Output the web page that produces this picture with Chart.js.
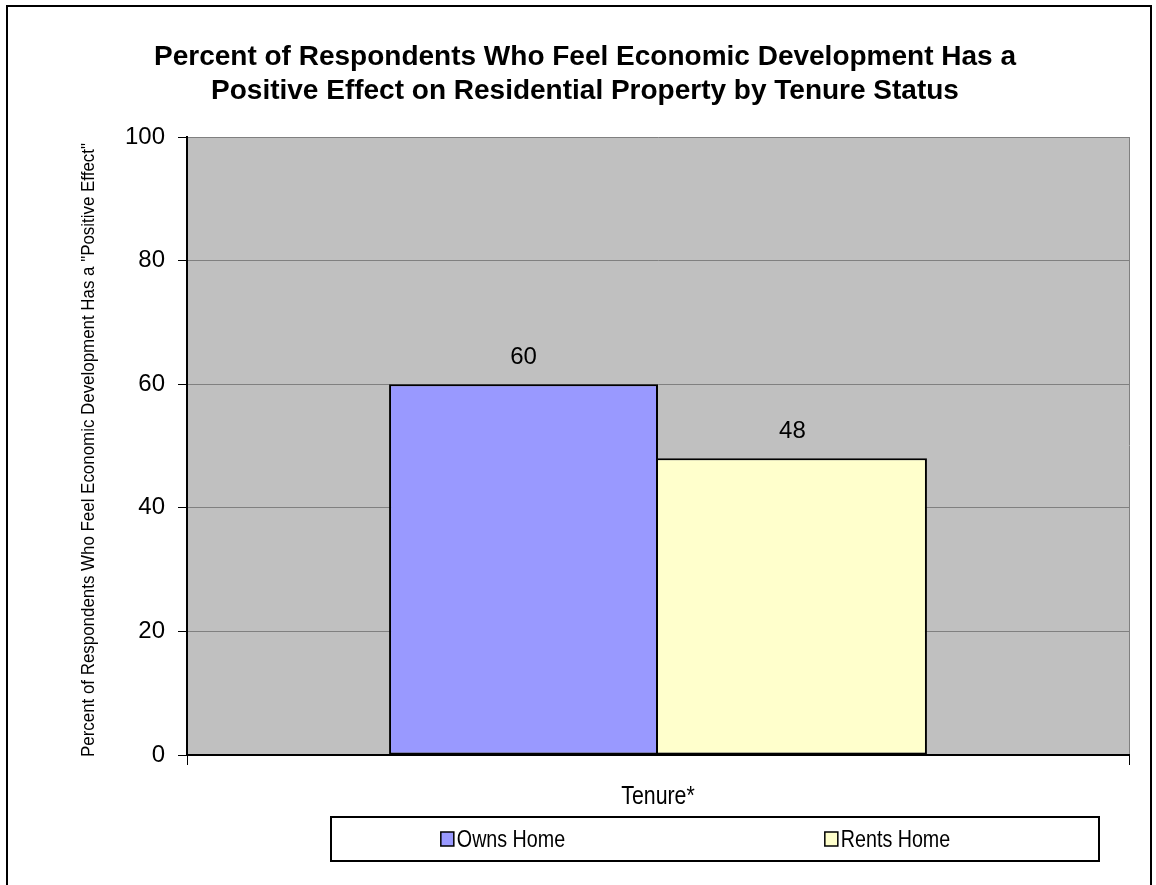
<!DOCTYPE html>
<html lang="en">
<head>
<meta charset="UTF-8">
<title>Positive Effect on Residential Property by Tenure Status</title>
<script src="https://cdn.jsdelivr.net/npm/chart.js"></script>
<style>
  html, body { margin: 0; padding: 0; background: #fff; }
  #wrap { width: 1156px; height: 885px; position: relative; }
</style>
</head>
<body>
<div id="wrap"><canvas id="chart"></canvas></div>
<script>
// data
const categories = [''];
const seriesNames = ['Owns Home', 'Rents Home'];
const ownsHome = [60];
const rentsHome = [48];
const seriesColors = ['#9999FF', '#FFFFCC'];
const yTicks = [0, 20, 40, 60, 80, 100];
const chartTitle = [
    'Percent of Respondents Who Feel Economic Development Has a',
    'Positive Effect on Residential Property by Tenure Status'
];
const xTitle = 'Tenure*';
const yTitle = 'Percent of Respondents Who Feel Economic Development Has a "Positive Effect"';

const FONT = '"Liberation Sans", Arial, Helvetica, sans-serif';

// draws text squeezed horizontally, like the narrow font of the original
function narrowText(ctx, text, x, y, size, squeeze, align, angle) {
    ctx.save();
    ctx.translate(x, y);
    if (angle) ctx.rotate(angle);
    ctx.scale(squeeze, 1);
    ctx.font = size + 'px ' + FONT;
    ctx.fillStyle = '#000';
    ctx.textAlign = align || 'center';
    ctx.textBaseline = 'middle';
    ctx.fillText(text, 0, 0);
    ctx.restore();
}

const decorations = {
    id: 'decorations',
    beforeDraw(chart) {
        const {ctx, chartArea: a} = chart;
        ctx.save();
        ctx.fillStyle = '#fff';
        ctx.fillRect(0, 0, chart.width, chart.height);
        ctx.fillStyle = '#C0C0C0';
        ctx.fillRect(a.left, a.top, a.right - a.left, a.bottom - a.top);
        ctx.restore();
    },
    afterDatasetsDraw(chart) {
        const ctx = chart.ctx;
        ctx.save();
        ctx.font = '24px ' + FONT;
        ctx.fillStyle = '#000';
        ctx.textAlign = 'center';
        ctx.textBaseline = 'bottom';
        chart.data.datasets.forEach((ds, i) => {
            chart.getDatasetMeta(i).data.forEach((bar, j) => {
                ctx.fillText(String(ds.data[j]), bar.x, bar.y - 15);
            });
        });
        ctx.restore();
    },
    afterDraw(chart) {
        const {ctx, chartArea: a} = chart;
        ctx.save();
        // outer frame
        ctx.strokeStyle = '#000';
        ctx.lineWidth = 2;
        ctx.strokeRect(7, 6, 1144, 900);

        // y axis title, squeezed to the length it has in the original
        ctx.font = '19px ' + FONT;
        const w = ctx.measureText(yTitle).width;
        narrowText(ctx, yTitle, 89, 450, 19, 614 / w, 'center', -Math.PI / 2);

        // x axis title
        narrowText(ctx, xTitle, (a.left + a.right) / 2, 797, 26, 0.82, 'center');

        // legend box
        const box = {x: 331, y: 817, w: 768, h: 44};
        ctx.lineWidth = 2;
        ctx.strokeStyle = '#000';
        ctx.strokeRect(box.x, box.y, box.w, box.h);
        chart.data.datasets.forEach((ds, i) => {
            const sx = box.x + box.w * (0.143 + 0.5 * i);
            const cy = box.y + box.h / 2;
            ctx.fillStyle = ds.backgroundColor;
            ctx.fillRect(sx, cy - 7, 13, 14);
            ctx.lineWidth = 1.5;
            ctx.strokeRect(sx, cy - 7, 13, 14);
            narrowText(ctx, ds.label, sx + 16, cy + 1, 24, 0.82, 'left');
        });
        ctx.restore();
    }
};

new Chart(document.getElementById('chart'), {
    type: 'bar',
    data: {
        labels: categories,
        datasets: [
            {
                label: seriesNames[0],
                data: ownsHome,
                backgroundColor: seriesColors[0],
                borderColor: '#000',
                borderWidth: 2,
                borderSkipped: false
            },
            {
                label: seriesNames[1],
                data: rentsHome,
                backgroundColor: seriesColors[1],
                borderColor: '#000',
                borderWidth: 2,
                borderSkipped: 'left'
            }
        ]
    },
    options: {
        responsive: true,
        maintainAspectRatio: false,
        animation: false,
        categoryPercentage: 0.571,
        barPercentage: 1.0,
        layout: {
            padding: {left: 41, right: 27, top: 0, bottom: 0}
        },
        plugins: {
            legend: {display: false},
            tooltip: {enabled: false},
            title: {
                display: true,
                text: chartTitle,
                color: '#000',
                font: {family: FONT, size: 28, weight: 'bold', lineHeight: '34px'},
                padding: {top: 40, bottom: 29}
            }
        },
        scales: {
            x: {
                grid: {
                    display: true,
                    offset: true,
                    color: '#808080',
                    tickColor: '#000',
                    tickLength: 10,
                    lineWidth: 1
                },
                border: {display: true, color: '#000', width: 2},
                ticks: {display: false},
                afterFit(scale) { scale.height = 130; }
            },
            y: {
                min: yTicks[0],
                max: yTicks[yTicks.length - 1],
                afterBuildTicks(scale) { scale.ticks = yTicks.map(v => ({value: v})); },
                grid: {
                    color: '#808080',
                    tickColor: '#000',
                    tickLength: 9,
                    lineWidth: 1
                },
                border: {display: true, color: '#000', width: 2},
                ticks: {
                    color: '#000',
                    padding: 13,
                    font: {family: FONT, size: 24}
                },
                afterFit(scale) { scale.width = 187 - 41; }
            }
        }
    },
    plugins: [decorations]
});
</script>
</body>
</html>
